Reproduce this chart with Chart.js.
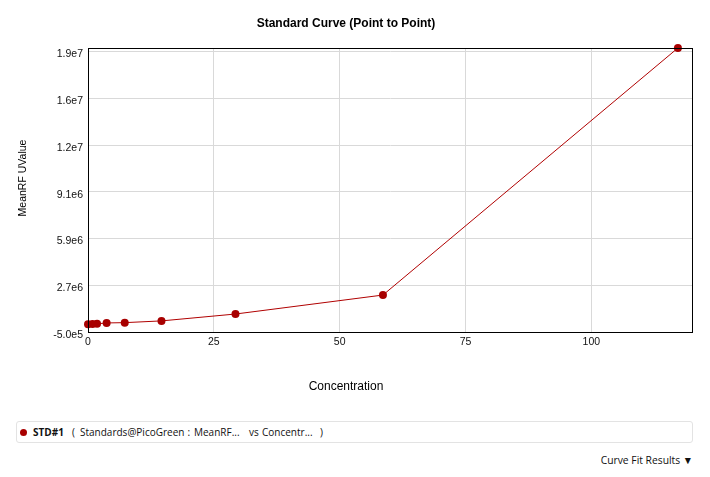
<!DOCTYPE html>
<html>
<head>
<meta charset="utf-8">
<script src="https://cdn.jsdelivr.net/npm/chart.js@4/dist/chart.umd.min.js"></script>
<style>
  html, body { margin: 0; padding: 0; background: #fff; width: 710px; height: 477px; overflow: hidden; }
  #wrap { position: absolute; left: 0; top: 0; width: 710px; height: 400px; }
  #legend { position: absolute; left: 16px; top: 421px; width: 675px; height: 20px; border: 1px solid #e3e3e3; border-radius: 3px;
            font-family: "Open Sans", "Noto Sans", sans-serif; font-size: 10px; color: #111; line-height: 20px; }
  #legend span { position: absolute; top: 0; white-space: pre; }
  #legend .dot { left: 3px; top: 7px; width: 7px; height: 7px; border-radius: 50%; background: #a80000; }
  #legend .name { left: 16px; font-weight: bold; }
  #fit { position: absolute; right: 17px; top: 453px; font-family: "Open Sans", "Noto Sans", sans-serif; font-size: 10.3px; color: #111; white-space: pre; }
</style>
</head>
<body>
<div id="wrap"><canvas id="c" width="710" height="400"></canvas></div>
<div id="legend"><span class="dot"></span><span class="name">STD#1</span><span style="left:55px">(</span><span style="left:63px">Standards@PicoGreen</span><span style="left:170.5px">:</span><span style="left:177px">MeanRF...</span><span style="left:232px">vs</span><span style="left:245px">Concentr...</span><span style="left:303px">)</span></div>
<div id="fit">Curve Fit Results ▼</div>
<script>
const concentration = [0, 0.9, 1.8, 3.7, 7.3, 14.6, 29.3, 58.6, 117.2];
const meanRFU = [3e4, 4e4, 6e4, 1.2e5, 1.4e5, 2.6e5, 7.3e5, 2.03e6, 1.894e7];
const xTickValues = [0, 25, 50, 75, 100];
const yTickValues = [-5e5, 2.7e6, 5.9e6, 9.1e6, 1.23e7, 1.55e7, 1.87e7];
const yTickLabels = ['-5.0e5', '2.7e6', '5.9e6', '9.1e6', '1.2e7', '1.6e7', '1.9e7'];
const yTitleText = 'MeanRF UValue';

const points = concentration.map((x, i) => ({ x: x, y: meanRFU[i] }));

const boxPlugin = {
  id: 'box',
  afterDraw(chart) {
    const a = chart.chartArea, ctx = chart.ctx;
    ctx.save();
    ctx.strokeStyle = '#000';
    ctx.lineWidth = 1;
    ctx.strokeRect(Math.round(a.left) + 0.5, Math.round(a.top) + 0.5, Math.round(a.right - a.left), Math.round(a.bottom - a.top));
    // y axis title
    ctx.translate(23, 178);
    ctx.rotate(-Math.PI / 2);
    ctx.fillStyle = '#000';
    ctx.font = '10.5px "Liberation Sans", Arial, sans-serif';
    ctx.textAlign = 'center';
    ctx.textBaseline = 'middle';
    ctx.fillText(yTitleText, 0, 0);
    ctx.restore();
  }
};

new Chart(document.getElementById('c'), {
  type: 'scatter',
  data: {
    datasets: [{
      label: 'STD#1',
      data: points,
      showLine: true,
      borderColor: '#b00000',
      borderWidth: 1,
      backgroundColor: '#a80000',
      pointBackgroundColor: '#a80000',
      pointBorderWidth: 0,
      pointRadius: 4,
      clip: false
    }]
  },
  plugins: [boxPlugin],
  options: {
    responsive: false,
    animation: false,
    layout: { padding: { left: 0, right: 18, top: 0, bottom: 0 } },
    plugins: {
      legend: { display: false },
      tooltip: { enabled: false },
      title: {
        display: true,
        text: 'Standard Curve (Point to Point)',
        color: '#000',
        font: { family: 'Liberation Sans, Arial, sans-serif', size: 12, weight: 'bold' },
        padding: { top: 16.5, bottom: 17.1 }
      },
      subtitle: {
        display: true,
        position: 'bottom',
        text: 'Concentration',
        color: '#000',
        font: { family: 'Liberation Sans, Arial, sans-serif', size: 12, weight: 'normal' },
        padding: { top: 9.8, bottom: 5.8 }
      }
    },
    scales: {
      x: {
        type: 'linear',
        min: 0,
        max: 120,
        afterFit(scale) { scale.height = 38; },
        afterBuildTicks(scale) { scale.ticks = xTickValues.map(v => ({ value: v })); },
        grid: { color: '#d9d9d9', lineWidth: 1, drawTicks: false },
        border: { color: '#000', width: 1 },
        ticks: {
          padding: 4,
          color: '#111',
          font: { family: 'Liberation Sans, Arial, sans-serif', size: 10.5 },
          maxRotation: 0,
          callback: (v) => String(v)
        }
      },
      y: {
        type: 'linear',
        min: -5e5,
        max: 1.894e7,
        afterFit(scale) { scale.width = 88; },
        afterBuildTicks(scale) { scale.ticks = yTickValues.map(v => ({ value: v })); },
        grid: { color: '#d9d9d9', lineWidth: 1, drawTicks: false },
        border: { color: '#000', width: 1 },
        ticks: {
          padding: 5,
          labelOffset: 3,
          color: '#111',
          font: { family: 'Liberation Sans, Arial, sans-serif', size: 10.5 },
          callback: (v, i) => yTickLabels[i]
        }
      }
    }
  }
});
</script>
</body>
</html>
